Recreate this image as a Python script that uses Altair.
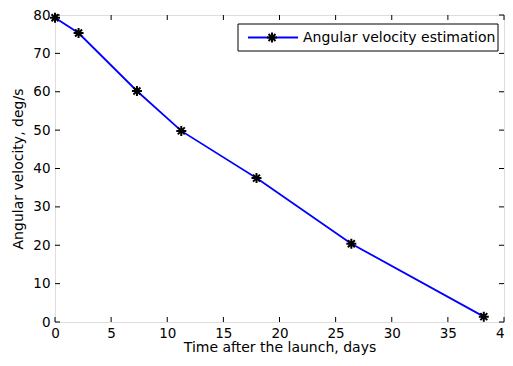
import altair as alt
import pandas as pd

# Data
time_days = [0, 2.1, 7.3, 11.25, 17.95, 26.4, 38.2]
ang_vel = [79.3, 75.3, 60.2, 49.8, 37.5, 20.4, 1.4]
x_ticks = [0, 5, 10, 15, 20, 25, 30, 35, 40]
y_ticks = [0, 10, 20, 30, 40, 50, 60, 70, 80]
legend_label = "Angular velocity estimation"

W, H = 449, 307
FONT = "DejaVu Sans"
ASTERISK = "M-1,0L1,0M0,-1L0,1M-0.7,-0.7L0.7,0.7M-0.7,0.7L0.7,-0.7"

df = pd.DataFrame({"t": time_days, "v": ang_vel})
xt = pd.DataFrame({"t": x_ticks})
yt = pd.DataFrame({"v": y_ticks})
one = pd.DataFrame({"k": [0]})

xscale = alt.Scale(domain=[0, 40], nice=False, zero=False)
yscale = alt.Scale(domain=[0, 80], nice=False, zero=False)

xaxis = alt.Axis(values=x_ticks, grid=False, ticks=False, domain=False,
                 labelFont=FONT, labelFontSize=13.5, labelColor="black",
                 labelPadding=4, labelFlush=False, labelOverlap=False,
                 title="Time after the launch, days", titleFont=FONT,
                 titleFontSize=14, titleFontWeight="normal", titleColor="black",
                 titlePadding=1)
yaxis = alt.Axis(values=y_ticks, grid=False, ticks=False, domain=False,
                 labelFont=FONT, labelFontSize=13.5, labelColor="black",
                 labelPadding=5, labelFlush=False, labelOverlap=False,
                 title="Angular velocity, deg/s", titleFont=FONT,
                 titleFontSize=14, titleFontWeight="normal", titleColor="black",
                 titlePadding=7)

X = alt.X("t:Q", scale=xscale, axis=xaxis)
Y = alt.Y("v:Q", scale=yscale, axis=yaxis)

line = alt.Chart(df).mark_line(color="#0000FF", strokeWidth=1.8).encode(x=X, y=Y)
pts = alt.Chart(df).mark_point(shape=ASTERISK, filled=False, color="black",
                               strokeWidth=2, size=100, opacity=1).encode(x=X, y=Y)

tick_style = dict(color="black", strokeWidth=1)
tb = alt.Chart(xt).mark_rule(**tick_style).encode(
    x=X, y=alt.value(H), y2=alt.value(H - 5))
tt = alt.Chart(xt).mark_rule(**tick_style).encode(
    x=X, y=alt.value(0), y2=alt.value(5))
tl = alt.Chart(yt).mark_rule(**tick_style).encode(
    y=Y, x=alt.value(0), x2=alt.value(5))
tr = alt.Chart(yt).mark_rule(**tick_style).encode(
    y=Y, x=alt.value(W), x2=alt.value(W - 5))

# legend
lg_box = alt.Chart(one).mark_rect(fill="white", stroke="black", strokeWidth=1).encode(
    x=alt.value(183), x2=alt.value(443), y=alt.value(9), y2=alt.value(36))
lg_line = alt.Chart(one).mark_rule(color="#0000FF", strokeWidth=1.8).encode(
    x=alt.value(193), x2=alt.value(243), y=alt.value(22.5))
lg_pt = alt.Chart(one).mark_point(shape=ASTERISK, filled=False, color="black",
                                  strokeWidth=2, size=100, opacity=1).encode(
    x=alt.value(217), y=alt.value(22.5))
lg_txt = alt.Chart(one).mark_text(text=legend_label, font=FONT, fontSize=14,
                                  align="left", baseline="middle", color="black").encode(
    x=alt.value(248), y=alt.value(22.5))

chart = alt.layer(line, pts, tb, tt, tl, tr, lg_box, lg_line, lg_pt, lg_txt).properties(
    width=W, height=H,
    autosize=alt.AutoSizeParams(type="none"),
    padding={"left": 47, "top": 7, "right": 1, "bottom": 36},
).configure_view(stroke="black", strokeWidth=1).configure(background="white")

chart.save("out.html", embed_options={"renderer": "svg", "actions": False})
